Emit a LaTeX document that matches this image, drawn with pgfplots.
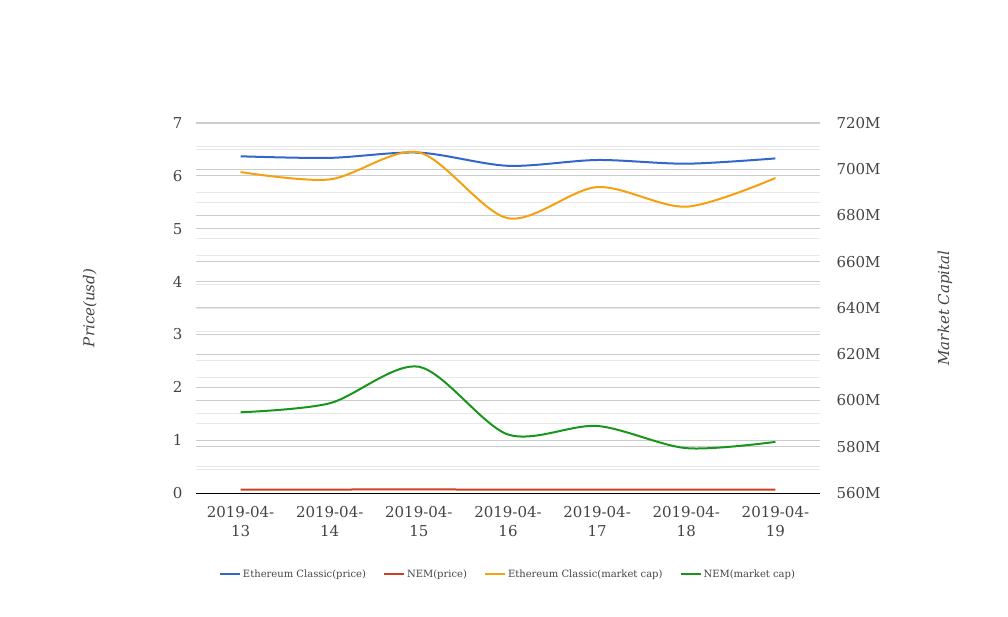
\documentclass[border=0pt]{standalone}
\usepackage{pgfplots}
\pgfplotsset{compat=1.18}
\usepackage{fontspec}
\setmainfont{DejaVu Serif}

\definecolor{cblue}{HTML}{3366CC}
\definecolor{cred}{HTML}{CC4125}
\definecolor{corange}{HTML}{F5A00F}
\definecolor{cgreen}{HTML}{18961C}
\definecolor{gmajor}{HTML}{CCCCCC}
\definecolor{gminor}{HTML}{E8E8E8}
\definecolor{tickgray}{HTML}{444444}

\pgfplotsset{
  base/.style={
    at={(196pt,123pt)}, anchor=south west,
    width=624pt, height=370pt, scale only axis,
    xmin=-0.5, xmax=6.5,
    tick style={draw=none},
    major grid style={gmajor, line width=1pt},
    minor grid style={gminor, line width=1pt},
    /pgf/number format/assume math mode=true,
    ticklabel style={font=\fontsize{15}{19}\selectfont, text=tickgray},
  },
  ylab/.style={
    every axis y label/.style={at={(axis description cs:#1,0.5)}, rotate=90, anchor=center,
      font=\fontsize{15}{18}\selectfont\itshape, text=tickgray},
  },
}

\begin{document}
\begin{tikzpicture}[x=1pt,y=1pt]
\path[use as bounding box] (0,0) rectangle (1008,616);

% right scale: grid, tick labels and label only
\begin{axis}[base,
  ymin=560, ymax=720,
  ytick={560,580,...,720},
  minor ytick={570,590,...,710},
  yticklabels={560M,580M,600M,620M,640M,660M,680M,700M,720M},
  ymajorgrids, yminorgrids,
  axis y line*=right, axis x line=none,
  y axis line style={draw=none},
  yticklabel style={xshift=13pt},
  ylabel={Market Capital},
  ylab=1.2003,
]
\end{axis}

% left scale: price series
\begin{axis}[base,
  ymin=0, ymax=7,
  ytick={0,...,7},
  minor ytick={0.5,1.5,...,6.5},
  ymajorgrids, yminorgrids,
  axis x line*=bottom, axis y line*=left,
  y axis line style={draw=none},
  x axis line style={black, line width=1pt, -},
  xtick={0,...,6},
  xticklabels={{2019-04-\\13},{2019-04-\\14},{2019-04-\\15},{2019-04-\\16},{2019-04-\\17},{2019-04-\\18},{2019-04-\\19}},
  xticklabel style={align=center, yshift=-10pt},
  yticklabel style={xshift=-10pt},
  ylabel={Price(usd)},
  ylab=-0.170,
]
\addplot[cblue, line width=2pt, smooth] coordinates {
  (0,6.37) (1,6.34) (2,6.44) (3,6.19) (4,6.30) (5,6.23) (6,6.33)
};
\addplot[cred, line width=2pt, smooth] coordinates {
  (0,0.066) (1,0.066) (2,0.067) (3,0.065) (4,0.065) (5,0.064) (6,0.064)
};
\end{axis}

% right scale: market cap series
\begin{axis}[base,
  ymin=560, ymax=720,
  hide axis,
  legend columns=4,
  legend style={at={(0.5,-0.219)}, anchor=center, draw=none, fill=none,
    font=\fontsize{10}{12}\selectfont, text=tickgray,
    /tikz/every even column/.append style={column sep=15pt},
    nodes={inner sep=2pt}},
  legend image code/.code={\draw[#1, line width=2pt] (0pt,0pt) -- (20pt,0pt);},
]
\addlegendimage{cblue}
\addlegendentry{Ethereum Classic(price)}
\addlegendimage{cred}
\addlegendentry{NEM(price)}
\addplot[corange, line width=2pt, smooth] coordinates {
  (0,698.8) (1,695.6) (2,707.3) (3,678.8) (4,692.3) (5,683.8) (6,696.2)
};
\addlegendentry{Ethereum Classic(market cap)}
\addplot[cgreen, line width=2pt, smooth] coordinates {
  (0,594.9) (1,598.8) (2,614.6) (3,585.3) (4,589.0) (5,579.4) (6,582.1)
};
\addlegendentry{NEM(market cap)}
\end{axis}
\end{tikzpicture}
\end{document}
